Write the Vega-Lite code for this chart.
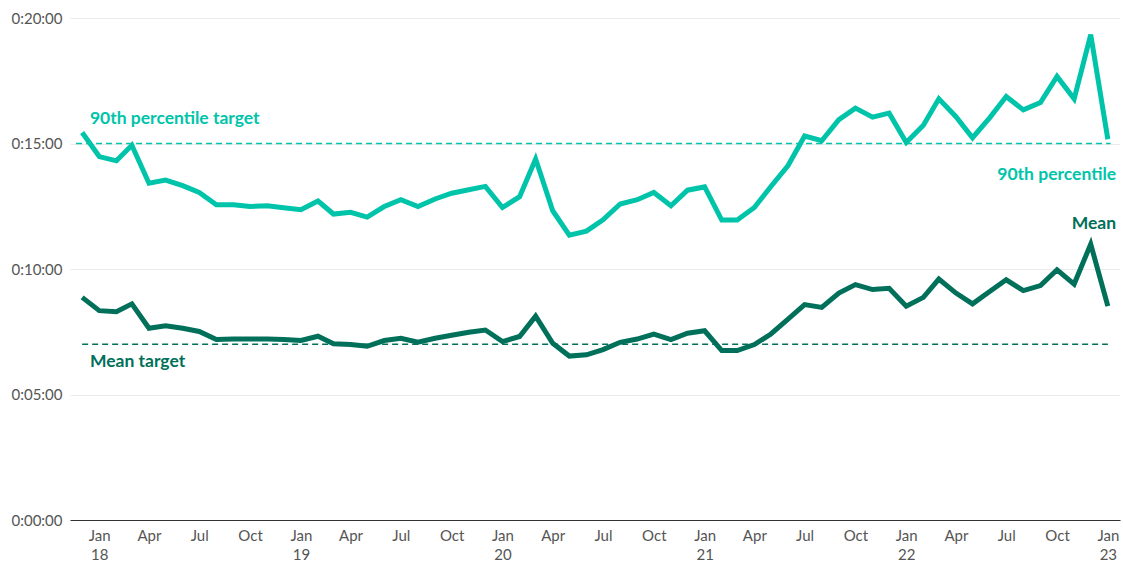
{
  "$schema": "https://vega.github.io/schema/vega-lite/v6.json",
  "autosize": {"type": "none"},
  "width": 1050,
  "height": 502,
  "padding": {"left": 70, "top": 18, "right": 3, "bottom": 44},
  "background": "white",
  "config": {
    "view": {"stroke": null},
    "font": "Lato",
    "axis": {"labelFont": "Lato", "labelColor": "#555555", "labelFontSize": 15}
  },
  "datasets": {
    "series": [
      {"date": "2017-12-01T00:00:00", "p90": 15.44, "mean": 8.87},
      {"date": "2018-01-01T00:00:00", "p90": 14.48, "mean": 8.34},
      {"date": "2018-02-01T00:00:00", "p90": 14.31, "mean": 8.30},
      {"date": "2018-03-01T00:00:00", "p90": 14.93, "mean": 8.61},
      {"date": "2018-04-01T00:00:00", "p90": 13.42, "mean": 7.64},
      {"date": "2018-05-01T00:00:00", "p90": 13.54, "mean": 7.74},
      {"date": "2018-06-01T00:00:00", "p90": 13.32, "mean": 7.64},
      {"date": "2018-07-01T00:00:00", "p90": 13.05, "mean": 7.51},
      {"date": "2018-08-01T00:00:00", "p90": 12.56, "mean": 7.19},
      {"date": "2018-09-01T00:00:00", "p90": 12.56, "mean": 7.21},
      {"date": "2018-10-01T00:00:00", "p90": 12.49, "mean": 7.21},
      {"date": "2018-11-01T00:00:00", "p90": 12.52, "mean": 7.21},
      {"date": "2018-12-01T00:00:00", "p90": 12.44, "mean": 7.19},
      {"date": "2019-01-01T00:00:00", "p90": 12.36, "mean": 7.15},
      {"date": "2019-02-01T00:00:00", "p90": 12.71, "mean": 7.32},
      {"date": "2019-03-01T00:00:00", "p90": 12.19, "mean": 7.02},
      {"date": "2019-04-01T00:00:00", "p90": 12.26, "mean": 6.99},
      {"date": "2019-05-01T00:00:00", "p90": 12.07, "mean": 6.92},
      {"date": "2019-06-01T00:00:00", "p90": 12.49, "mean": 7.15},
      {"date": "2019-07-01T00:00:00", "p90": 12.76, "mean": 7.24},
      {"date": "2019-08-01T00:00:00", "p90": 12.49, "mean": 7.08},
      {"date": "2019-09-01T00:00:00", "p90": 12.79, "mean": 7.24},
      {"date": "2019-10-01T00:00:00", "p90": 13.02, "mean": 7.36},
      {"date": "2019-11-01T00:00:00", "p90": 13.16, "mean": 7.48},
      {"date": "2019-12-01T00:00:00", "p90": 13.29, "mean": 7.57},
      {"date": "2020-01-01T00:00:00", "p90": 12.45, "mean": 7.11},
      {"date": "2020-02-01T00:00:00", "p90": 12.88, "mean": 7.31},
      {"date": "2020-03-01T00:00:00", "p90": 14.38, "mean": 8.12},
      {"date": "2020-04-01T00:00:00", "p90": 12.32, "mean": 7.04},
      {"date": "2020-05-01T00:00:00", "p90": 11.35, "mean": 6.53},
      {"date": "2020-06-01T00:00:00", "p90": 11.51, "mean": 6.58},
      {"date": "2020-07-01T00:00:00", "p90": 11.96, "mean": 6.79},
      {"date": "2020-08-01T00:00:00", "p90": 12.59, "mean": 7.08},
      {"date": "2020-09-01T00:00:00", "p90": 12.76, "mean": 7.21},
      {"date": "2020-10-01T00:00:00", "p90": 13.05, "mean": 7.41},
      {"date": "2020-11-01T00:00:00", "p90": 12.52, "mean": 7.19},
      {"date": "2020-12-01T00:00:00", "p90": 13.14, "mean": 7.44},
      {"date": "2021-01-01T00:00:00", "p90": 13.27, "mean": 7.54},
      {"date": "2021-02-01T00:00:00", "p90": 11.95, "mean": 6.75},
      {"date": "2021-03-01T00:00:00", "p90": 11.95, "mean": 6.75},
      {"date": "2021-04-01T00:00:00", "p90": 12.45, "mean": 6.99},
      {"date": "2021-05-01T00:00:00", "p90": 13.29, "mean": 7.41},
      {"date": "2021-06-01T00:00:00", "p90": 14.12, "mean": 8.0},
      {"date": "2021-07-01T00:00:00", "p90": 15.30, "mean": 8.58},
      {"date": "2021-08-01T00:00:00", "p90": 15.11, "mean": 8.47},
      {"date": "2021-09-01T00:00:00", "p90": 15.95, "mean": 9.04},
      {"date": "2021-10-01T00:00:00", "p90": 16.41, "mean": 9.38},
      {"date": "2021-11-01T00:00:00", "p90": 16.05, "mean": 9.18},
      {"date": "2021-12-01T00:00:00", "p90": 16.21, "mean": 9.23},
      {"date": "2022-01-01T00:00:00", "p90": 15.04, "mean": 8.52},
      {"date": "2022-02-01T00:00:00", "p90": 15.73, "mean": 8.87},
      {"date": "2022-03-01T00:00:00", "p90": 16.78, "mean": 9.60},
      {"date": "2022-04-01T00:00:00", "p90": 16.07, "mean": 9.04},
      {"date": "2022-05-01T00:00:00", "p90": 15.23, "mean": 8.61},
      {"date": "2022-06-01T00:00:00", "p90": 16.02, "mean": 9.10},
      {"date": "2022-07-01T00:00:00", "p90": 16.87, "mean": 9.57},
      {"date": "2022-08-01T00:00:00", "p90": 16.34, "mean": 9.14},
      {"date": "2022-09-01T00:00:00", "p90": 16.63, "mean": 9.34},
      {"date": "2022-10-01T00:00:00", "p90": 17.67, "mean": 9.97},
      {"date": "2022-11-01T00:00:00", "p90": 16.78, "mean": 9.40},
      {"date": "2022-12-01T00:00:00", "p90": 19.34, "mean": 10.99},
      {"date": "2023-01-01T00:00:00", "p90": 15.17, "mean": 8.52}
    ],
    "targets": [
      {"series": "90th percentile", "value": 15, "start": "2017-11-20T00:00:00", "end": "2023-01-06T00:00:00"},
      {"series": "Mean", "value": 7, "start": "2017-12-01T00:00:00", "end": "2023-01-01T00:00:00"}
    ],
    "labels": [
      {"series": "90th percentile", "text": "90th percentile target", "date": "2017-12-15T00:00:00", "value": 15.97, "side": "left"},
      {"series": "Mean", "text": "Mean target", "date": "2017-12-15T00:00:00", "value": 6.30, "side": "left"},
      {"series": "90th percentile", "text": "90th percentile", "date": "2023-01-16T00:00:00", "value": 13.74, "side": "right"},
      {"series": "Mean", "text": "Mean", "date": "2023-01-16T00:00:00", "value": 11.79, "side": "right"}
    ]
  },
  "encoding": {
    "x": {
      "field": "date",
      "type": "temporal",
      "scale": {"domain": [{"year": 2017, "month": 11, "date": 9}, {"year": 2023, "month": 1, "date": 23}]},
      "axis": {
        "title": null,
        "grid": false,
        "ticks": false,
        "domainColor": "#333333",
        "domainWidth": 1,
        "labelPadding": 8,
        "labelLineHeight": 19,
        "labelBaseline": "top",
        "tickCount": {"interval": "month", "step": 3},
        "labelExpr": "month(datum.value) == 0 ? ['Jan', timeFormat(datum.value, '%y')] : timeFormat(datum.value, '%b')",
        "labelOverlap": false
      }
    }
  },
  "layer": [
    {
      "data": {"name": "targets"},
      "mark": {"type": "rule", "strokeWidth": 1.5, "strokeDash": [6, 4]},
      "encoding": {
        "x": {"field": "start", "type": "temporal"},
        "x2": {"field": "end"},
        "y": {"field": "value", "type": "quantitative", "scale": {"domain": [0, 20]},
          "axis": {
            "title": null,
            "values": [0, 5, 10, 15, 20],
            "domain": false,
            "ticks": false,
            "labelPadding": 8,
            "gridColor": "#ebebeb",
            "gridWidth": 1,
            "labelExpr": "'0:' + (datum.value < 10 ? '0' : '') + datum.value + ':00'"
          }},
        "color": {
          "field": "series",
          "type": "nominal",
          "scale": {"domain": ["90th percentile", "Mean"], "range": ["#00c4aa", "#00705a"]},
          "legend": null
        }
      }
    },
    {
      "data": {"name": "series"},
      "transform": [{"fold": ["p90", "mean"], "as": ["key", "val"]},
        {"calculate": "datum.key == 'p90' ? '90th percentile' : 'Mean'", "as": "series"}],
      "mark": {"type": "line", "strokeWidth": 5, "strokeJoin": "miter", "strokeCap": "butt"},
      "encoding": {
        "y": {"field": "val", "type": "quantitative"},
        "color": {"field": "series", "type": "nominal"}
      }
    },
    {
      "data": {"name": "labels"},
      "transform": [{"filter": "datum.side == 'left'"}],
      "mark": {"type": "text", "align": "left", "baseline": "middle", "fontWeight": "bold", "fontSize": 17.5, "font": "Lato"},
      "encoding": {
        "x": {"field": "date", "type": "temporal"},
        "y": {"field": "value", "type": "quantitative"},
        "text": {"field": "text"},
        "color": {"field": "series", "type": "nominal"}
      }
    },
    {
      "data": {"name": "labels"},
      "transform": [{"filter": "datum.side == 'right'"}],
      "mark": {"type": "text", "align": "right", "baseline": "middle", "fontWeight": "bold", "fontSize": 17.5, "font": "Lato"},
      "encoding": {
        "x": {"field": "date", "type": "temporal"},
        "y": {"field": "value", "type": "quantitative"},
        "text": {"field": "text"},
        "color": {"field": "series", "type": "nominal"}
      }
    }
  ]
}
